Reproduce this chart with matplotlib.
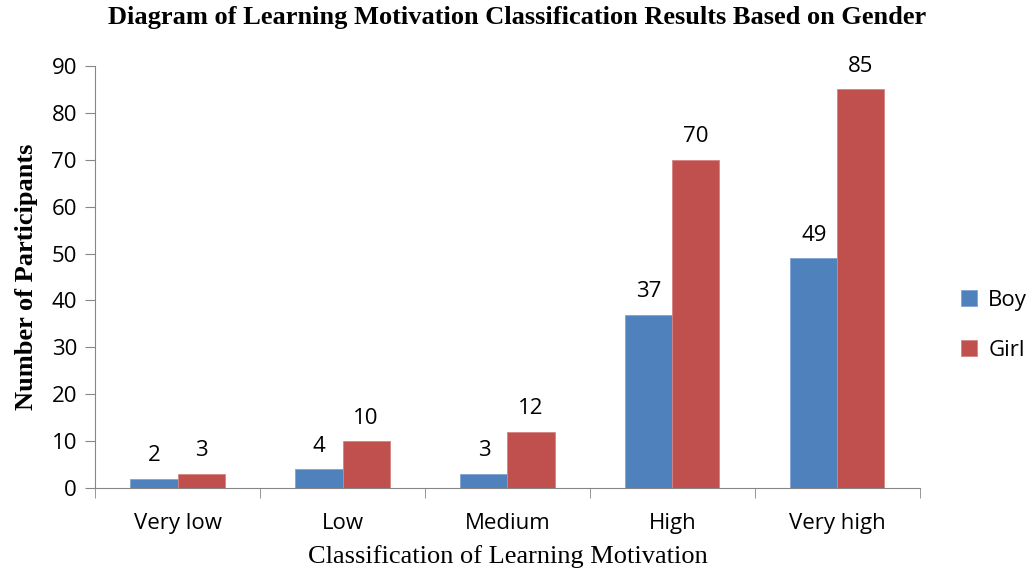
import numpy as np
import matplotlib.pyplot as plt

categories = ['Very low', 'Low', 'Medium', 'High', 'Very high']
boy = [2, 4, 3, 37, 49]
girl = [3, 10, 12, 70, 85]

plt.rcParams['font.family'] = ['Open Sans', 'DejaVu Sans']
serif = 'Liberation Serif'

fig = plt.figure(figsize=(10.34, 5.78), dpi=100)
ax = fig.add_axes([0.0919, 0.1557, 0.7978, 0.7301])

x = np.arange(len(categories))
w = 0.285
b1 = ax.bar(x - w / 2, boy, w, color='#4F81BD', edgecolor='#7FA3D0', linewidth=0.6, label='Boy')
b2 = ax.bar(x + w / 2, girl, w, color='#C0504D', edgecolor='#D68482', linewidth=0.6, label='Girl')
ax.bar_label(b1, padding=9, fontsize=16)
ax.bar_label(b2, padding=9, fontsize=16)

ax.set_xlim(-0.5, 4.5)
ax.set_ylim(0, 90)
ax.set_yticks(range(0, 91, 10))
ax.set_xticks(x)
ax.set_xticklabels(categories)
ax.set_xticks(np.arange(-0.5, 5, 1), minor=True)
ax.tick_params(axis='x', which='major', length=0, pad=18, labelsize=16)
ax.tick_params(axis='x', which='minor', length=7, color='#868686')
ax.tick_params(axis='y', length=7, color='#868686', labelsize=16, pad=6)

for s in ['top', 'right']:
    ax.spines[s].set_visible(False)
for s in ['left', 'bottom']:
    ax.spines[s].set_color('#868686')

ax.set_ylabel('Number of Participants', fontfamily=serif, fontweight='bold', fontsize=19, labelpad=10)
ax.set_xlabel('Classification of Learning Motivation', fontfamily=serif, fontsize=19, labelpad=8)
fig.suptitle('Diagram of Learning Motivation Classification Results Based on Gender',
             fontfamily=serif, fontweight='bold', fontsize=19, x=0.5, y=0.99)

ax.legend(loc='center left', bbox_to_anchor=(1.025, 0.385), frameon=False, fontsize=16,
          handlelength=0.75, handleheight=0.75, handletextpad=0.5, labelspacing=1.3)

fig.savefig('out.png', dpi=100)
